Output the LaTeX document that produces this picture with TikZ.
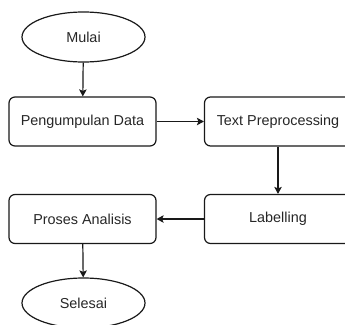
\documentclass[tikz,border=0pt]{standalone}
\usepackage{fontspec}
\setmainfont{Liberation Sans}
\usetikzlibrary{shapes.geometric,arrows.meta}
\begin{document}
\begin{tikzpicture}[x=1pt,y=-1pt,
  every node/.style={font=\fontsize{14.4}{17}\selectfont, text=black!85, line width=1.2pt, draw=black!90},
  procbox/.style={rectangle, rounded corners=6pt, minimum width=147pt, minimum height=49pt, inner sep=0pt},
  term/.style={ellipse, minimum width=123pt, minimum height=50pt, inner sep=0pt},
  conn/.style={draw=black!90, line width=1.2pt, -{Stealth[length=7pt,width=7.5pt,inset=1.5pt]}}]
\useasboundingbox (0,0) rectangle (345,324);
\clip (0,0) rectangle (345,324);
\node[term] (mulai) at (83.5,37) {Mulai};
\node[procbox] (pd) at (82.5,121.5) {Pengumpulan Data};
\node[procbox] (tp) at (278,121.5) {Text Preprocessing};
\node[procbox] (lab) at (278,219) {Labelling};
\node[procbox] (pa) at (82.5,219) {Proses Analisis};
\node[term] (sel) at (83.5,303) {Selesai};
\draw[conn] (mulai) -- (pd);
\draw[conn] (pd) -- (tp);
\draw[conn] (tp) -- (lab);
\draw[conn] (lab) -- (pa);
\draw[conn] (pa) -- (sel);
\end{tikzpicture}
\end{document}
